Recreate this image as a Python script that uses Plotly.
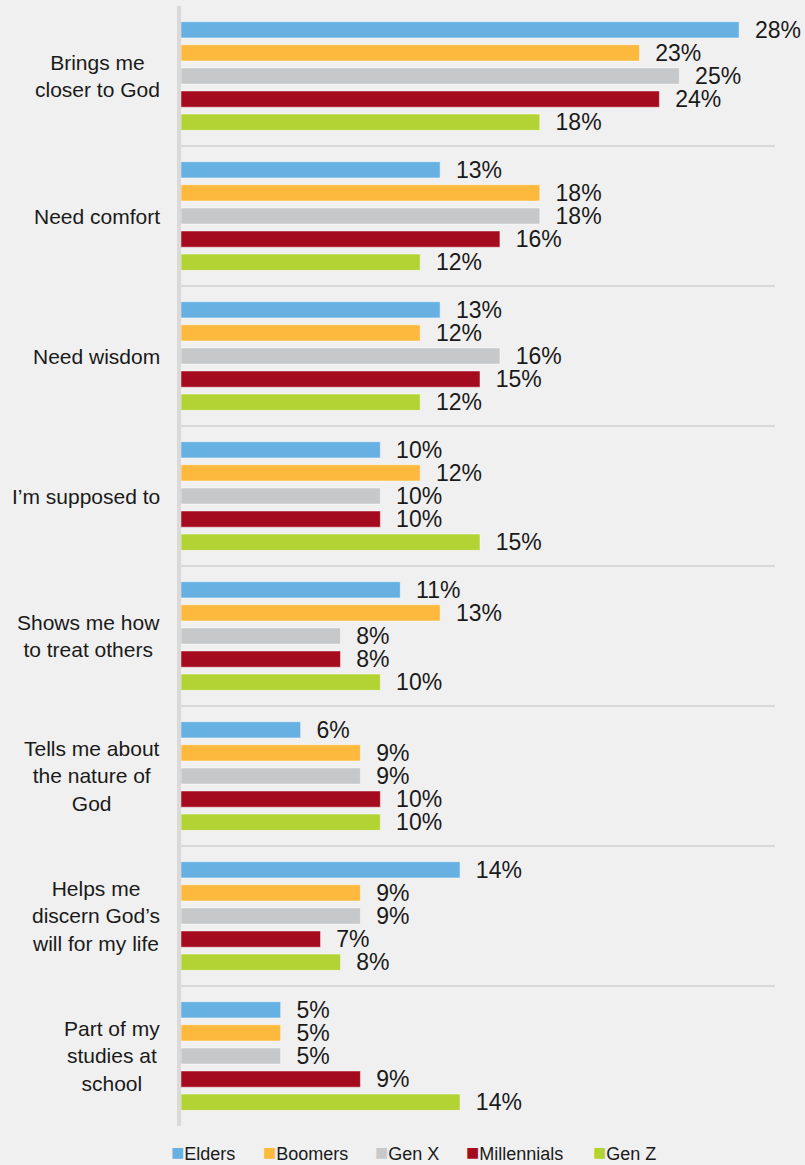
import plotly.graph_objects as go

# Reasons for reading the Bible, by generation (share of respondents, %)
categories = [
    "Brings me<br>closer to God",
    "Need comfort",
    "Need wisdom",
    "I\u2019m supposed to",
    "Shows me how<br>to treat others",
    "Tells me about<br>the nature of<br>God",
    "Helps me<br>discern God\u2019s<br>will for my life",
    "Part of my<br>studies at<br>school",
]
generations = ["Elders", "Boomers", "Gen X", "Millennials", "Gen Z"]
elders = [28, 13, 13, 10, 11, 6, 14, 5]
boomers = [23, 18, 12, 12, 13, 9, 9, 5]
gen_x = [25, 18, 16, 10, 8, 9, 9, 5]
millennials = [24, 16, 15, 10, 8, 10, 7, 9]
gen_z = [18, 12, 12, 15, 10, 10, 8, 14]

series = [elders, boomers, gen_x, millennials, gen_z]
colors = ["#67b1e2", "#fdb93d", "#c7c8ca", "#a50b1e", "#b3d335"]

FONT = "Liberation Sans, Arial, sans-serif"
TEXT = "#1a1a1a"
BG = "#f0f0f0"
GRID = "#d9d9d9"

fig = go.Figure()
for name, vals, col in zip(generations, series, colors):
    fig.add_trace(go.Bar(
        name=name,
        y=categories,
        x=vals,
        orientation="h",
        marker=dict(color=col, line=dict(color="rgba(255,255,255,0.45)", width=1)),
        texttemplate="\u00a0\u00a0%{x}%",
        textposition="outside",
        constraintext="none",
        cliponaxis=False,
        textfont=dict(family=FONT, size=23, color=TEXT),
        showlegend=False,
        hoverinfo="skip",
    ))

annotations = []
# category labels, centred as text blocks to the left of the axis
for cat in categories:
    annotations.append(dict(
        xref="paper", yref="y", x=0, y=cat,
        xshift=-19, xanchor="right", yanchor="middle",
        align="center", showarrow=False,
        text=cat, font=dict(family=FONT, size=21, color=TEXT),
    ))

# legend row under the plot
legend_offsets = [-11, 81, 193, 284, 411]
for name, col, dx in zip(generations, colors, legend_offsets):
    annotations.append(dict(
        xref="paper", yref="paper", x=0, y=0,
        xshift=dx, yshift=-26, xanchor="left", yanchor="middle",
        showarrow=False, borderpad=0,
        text=f'<span style="color:{col};font-size:22px">\u25a0</span>{name}',
        font=dict(family=FONT, size=18, color=TEXT),
    ))

fig.update_layout(
    width=805, height=1165,
    margin=dict(l=181, r=30, t=6, b=39),
    paper_bgcolor=BG, plot_bgcolor=BG,
    barmode="group",
    bargap=0.175,
    bargroupgap=0.3,
    showlegend=False,
    annotations=annotations,
    xaxis=dict(range=[0, 29.8], showgrid=False, zeroline=False,
               showticklabels=False, showline=False, fixedrange=True),
    yaxis=dict(autorange="reversed", tickson="boundaries",
               showgrid=True, gridcolor=GRID, gridwidth=2,
               showticklabels=False, ticks="",
               showline=True, linecolor=GRID, linewidth=4,
               zeroline=False, fixedrange=True),
)

fig.write_html("out.html")
